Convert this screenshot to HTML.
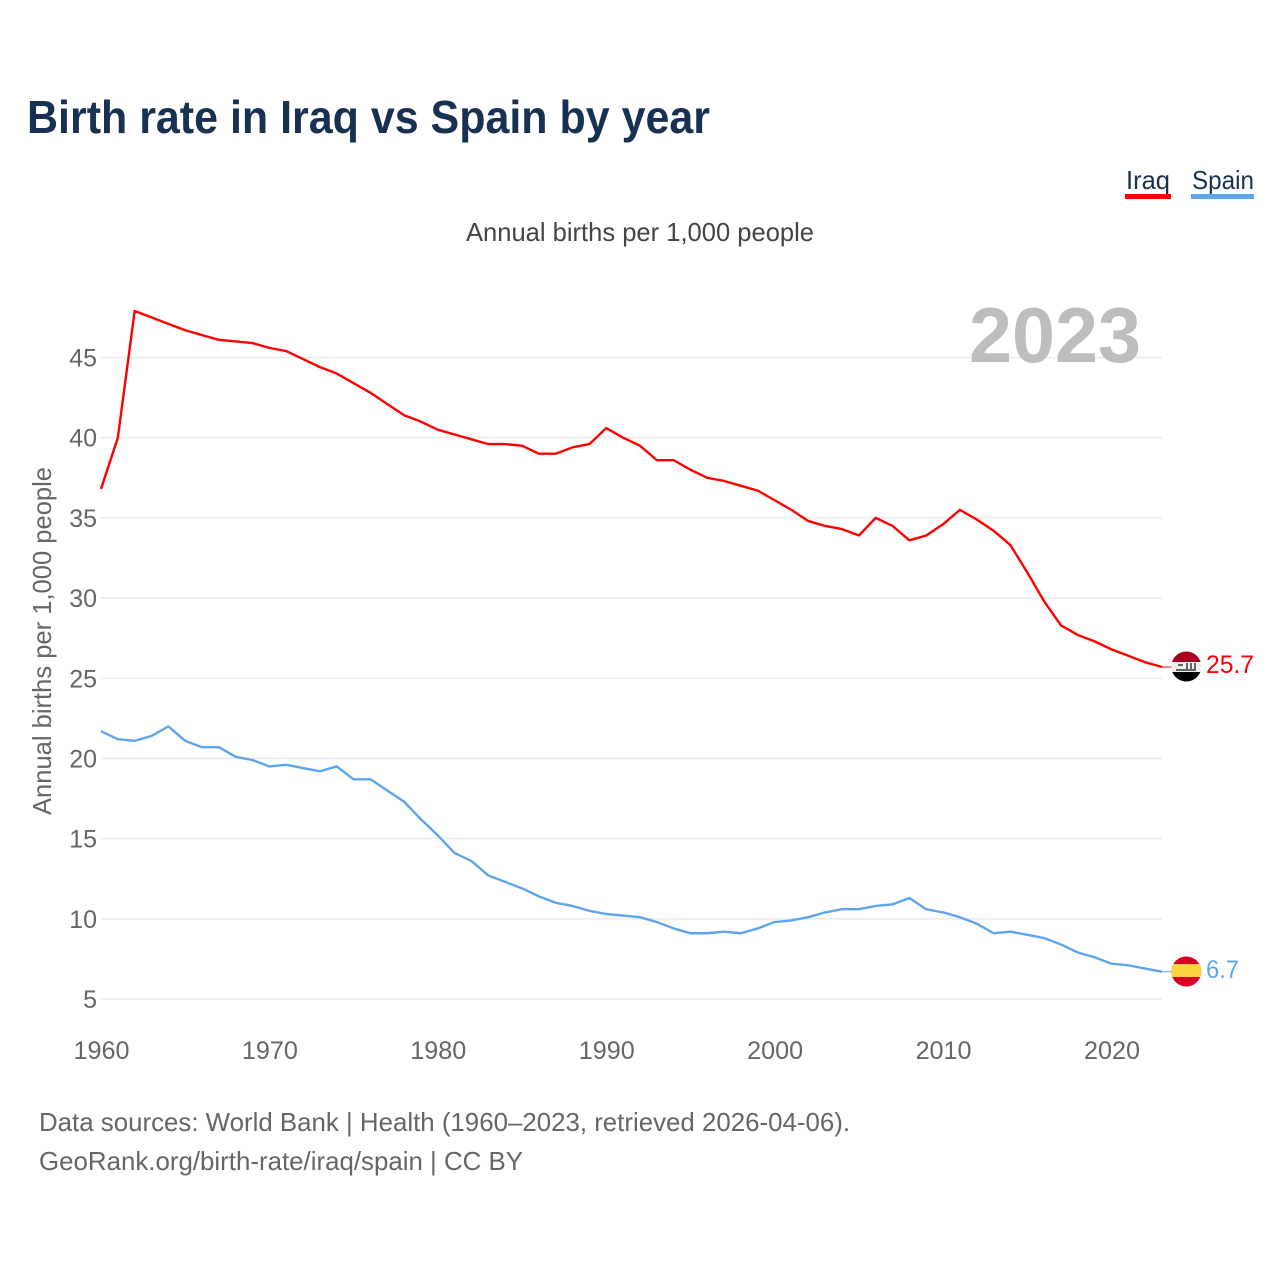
<!DOCTYPE html>
<html lang="en">
<head>
<meta charset="utf-8">
<title>Birth rate in Iraq vs Spain by year</title>
<style>
html,body{margin:0;padding:0;background:#fff;width:1280px;height:1280px;overflow:hidden}
svg{display:block}
text{font-family:"Liberation Sans",sans-serif}
</style>
</head>
<body>
<svg id="chart" width="1280" height="1280" viewBox="0 0 1280 1280" xmlns="http://www.w3.org/2000/svg">
  <defs>
    <clipPath id="iraq-clip"><circle cx="1186.3" cy="666.5" r="15"/></clipPath>
    <clipPath id="spain-clip"><circle cx="1186.3" cy="971.5" r="15"/></clipPath>
  </defs>
  <rect x="0" y="0" width="1280" height="1280" fill="#fff"/>
  <text x="27" y="133" font-size="46" font-weight="700" fill="#183153" textLength="683" lengthAdjust="spacingAndGlyphs">Birth rate in Iraq vs Spain by year</text>

  <g>
    <text x="1126" y="189" font-size="26" fill="#183153" textLength="44" lengthAdjust="spacingAndGlyphs">Iraq</text>
    <rect x="1125" y="194" width="46" height="5" fill="#ff0000"/>
  </g>
  <g>
    <text x="1192" y="189" font-size="26" fill="#183153" textLength="62" lengthAdjust="spacingAndGlyphs">Spain</text>
    <rect x="1191" y="194" width="63" height="5" fill="#5fa5ec"/>
  </g>

  <text x="466" y="241" font-size="26" fill="#444" textLength="348" lengthAdjust="spacingAndGlyphs">Annual births per 1,000 people</text>
  <text transform="translate(51,815) rotate(-90)" x="0" y="0" font-size="26" fill="#666" textLength="348" lengthAdjust="spacingAndGlyphs">Annual births per 1,000 people</text>

  <g id="grid"></g>
  <g id="y-ticks"></g>
  <g id="x-ticks"></g>

  <text x="969" y="362" font-size="78" font-weight="700" fill="#bdbdbd" textLength="172" lengthAdjust="spacingAndGlyphs">2023</text>

  <g id="series"></g>

  <g clip-path="url(#iraq-clip)">
    <rect x="1171" y="651" width="31" height="11" fill="#a50021"/>
    <rect x="1171" y="662" width="31" height="10" fill="#eeeeee"/>
    <rect x="1171" y="672" width="31" height="11" fill="#000000"/>
    <rect x="1176" y="669" width="20" height="2" fill="#5d6b62"/>
    <rect x="1178" y="664" width="5" height="2" fill="#5d6b62"/>
    <rect x="1186" y="663" width="2" height="7" fill="#5d6b62"/>
    <rect x="1190" y="663" width="2" height="7" fill="#5d6b62"/>
    <rect x="1194" y="663" width="2" height="7" fill="#5d6b62"/>
  </g>
  <g clip-path="url(#spain-clip)">
    <rect x="1171" y="956" width="31" height="31" fill="#d80027"/>
    <rect x="1171" y="964" width="31" height="13" fill="#ffd23f"/>
  </g>

  <text x="1206" y="673" font-size="25" fill="#ff0000" textLength="48" lengthAdjust="spacingAndGlyphs">25.7</text>
  <text x="1206" y="978" font-size="25" fill="#5fa5ec" textLength="33" lengthAdjust="spacingAndGlyphs">6.7</text>

  <text x="39" y="1131" font-size="26" fill="#666" textLength="811" lengthAdjust="spacingAndGlyphs">Data sources: World Bank | Health (1960–2023, retrieved 2026-04-06).</text>
  <text x="39" y="1170" font-size="26" fill="#666" textLength="484" lengthAdjust="spacingAndGlyphs">GeoRank.org/birth-rate/iraq/spain | CC BY</text>
</svg>
<script>
const startYear = 1960;
const endYear = 2023;
const yTickValues = [5, 10, 15, 20, 25, 30, 35, 40, 45];
const xTickYears = [1960, 1970, 1980, 1990, 2000, 2010, 2020];
const iraqValues = [36.8,40.0,47.9,47.5,47.1,46.7,46.4,46.1,46.0,45.9,45.6,45.4,44.9,44.4,44.0,43.4,42.8,42.1,41.4,41.0,40.5,40.2,39.9,39.6,39.6,39.5,39.0,39.0,39.4,39.6,40.6,40.0,39.5,38.6,38.6,38.0,37.5,37.3,37.0,36.7,36.1,35.5,34.8,34.5,34.3,33.9,35.0,34.5,33.6,33.9,34.6,35.5,34.9,34.2,33.3,31.6,29.8,28.3,27.7,27.3,26.8,26.4,26.0,25.7];
const spainValues = [21.7,21.2,21.1,21.4,22.0,21.1,20.7,20.7,20.1,19.9,19.5,19.6,19.4,19.2,19.5,18.7,18.7,18.0,17.3,16.2,15.2,14.1,13.6,12.7,12.3,11.9,11.4,11.0,10.8,10.5,10.3,10.2,10.1,9.8,9.4,9.1,9.1,9.2,9.1,9.4,9.8,9.9,10.1,10.4,10.6,10.6,10.8,10.9,11.3,10.6,10.4,10.1,9.7,9.1,9.2,9.0,8.8,8.4,7.9,7.6,7.2,7.1,6.9,6.7];

const NS = 'http://www.w3.org/2000/svg';
const plotLeft = 101, plotRight = 1162;
function xScale(year) {
  return plotLeft + (year - startYear) * (plotRight - plotLeft) / (endYear - startYear);
}
function yScale(value) {
  return 999 - (value - 5) * (999 - 357.5) / 40;
}
function make(tag, attrs, text) {
  const el = document.createElementNS(NS, tag);
  for (const k in attrs) el.setAttribute(k, attrs[k]);
  if (text !== undefined) el.textContent = text;
  return el;
}
const grid = document.getElementById('grid');
const yTicks = document.getElementById('y-ticks');
const xTicks = document.getElementById('x-ticks');
const seriesGroup = document.getElementById('series');

yTickValues.forEach(function (v) {
  const line = make('line', {x1: plotLeft, x2: plotRight, y1: yScale(v), y2: yScale(v), stroke: '#ececec', 'stroke-width': 1.6});
  
  
  grid.appendChild(line);
  const label = make('text', {x: 97, y: yScale(v) + 9, 'text-anchor': 'end', 'font-size': 25, fill: '#666'}, String(v));
  
  
  yTicks.appendChild(label);
});

xTickYears.forEach(function (yr) {
  const label = make('text', {x: xScale(yr) + 0.5, y: 1059, 'text-anchor': 'middle', 'font-size': 25, fill: '#666', textLength: 56, lengthAdjust: 'spacingAndGlyphs'}, String(yr));
  
  
  xTicks.appendChild(label);
});

function drawSeries(values, color, lineName, leaderName) {
  const pts = values.map(function (v, i) {
    return xScale(startYear + i).toFixed(2) + ',' + yScale(v).toFixed(2);
  }).join(' ');
  const line = make('polyline', {points: pts, fill: 'none', stroke: color, 'stroke-width': 2.4, 'stroke-linejoin': 'round'});
  
  
  seriesGroup.appendChild(line);
  const lastY = yScale(values[values.length - 1]);
  const leader = make('line', {x1: plotRight, x2: 1172, y1: lastY, y2: lastY, stroke: color, 'stroke-width': 1});
  
  
  seriesGroup.appendChild(leader);
}
drawSeries(iraqValues, '#ff0000', 'iraq-line', 'iraq-leader-line');
drawSeries(spainValues, '#5fa5ec', 'spain-line', 'spain-leader-line');
</script>
</body>
</html>
